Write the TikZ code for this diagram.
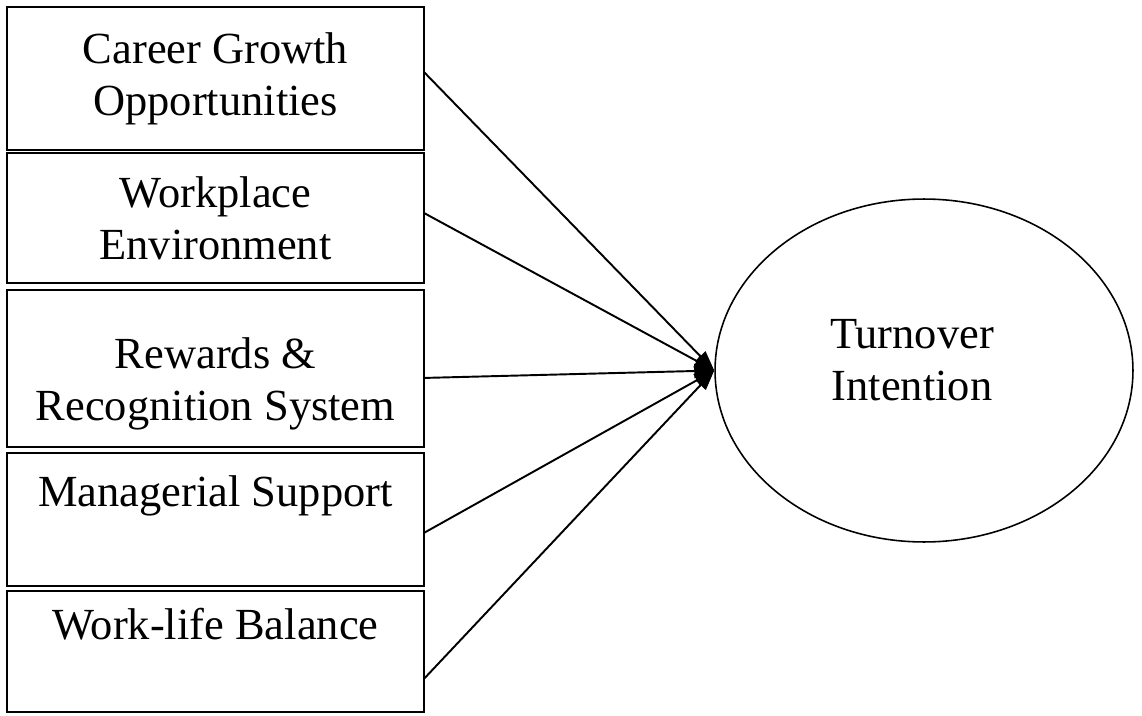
\documentclass[tikz,border=0pt]{standalone}
\usepackage{fontspec}
\setmainfont{Liberation Serif}
\usetikzlibrary{arrows.meta, positioning, shapes.geometric}

\begin{document}
\begin{tikzpicture}[x=0.02cm, y=-0.02cm,
factor/.style={
    rectangle,
    draw=black,
    line width=1.1pt,
    minimum width=8.34cm,
    inner sep=0pt,
    outer sep=0pt,
    align=center,
    font=\fontsize{25.3}{29.6}\selectfont
},
outcome/.style={
    ellipse,
    draw=black,
    line width=0.9pt,
    minimum width=8.36cm,
    minimum height=6.86cm,
    inner sep=0pt,
    align=center,
    font=\fontsize{25.3}{29.6}\selectfont
}, >={Triangle[length=0.4cm, width=0.28cm]}]

  \useasboundingbox (0,0) rectangle (1142,716);

  \node (career) [factor, minimum height=2.86cm] at (215.5,78.5) {Career Growth\\Opportunities};
  \node (workplace) [factor, minimum height=2.6cm, below=0.06cm of career] {Workplace\\Environment};
  \node (rewards) [factor, minimum height=3.14cm, below=0.14cm of workplace] {\rule{0pt}{1.24cm}Rewards \&\\Recognition System};
  \node (support) [factor, minimum height=2.66cm, below=0.12cm of rewards, text depth=1.14cm] {Managerial Support};
  \node (balance) [factor, minimum height=2.42cm, below=0.1cm of support, text depth=1.1cm] {Work-life Balance};
  \node (turnover) [outcome] at (924,370.5) {Turnover\hspace*{0.48cm}\\Intention\hspace*{0.48cm}\rule[-0.44cm]{0pt}{0.44cm}};

  \draw[->, line width=1.1pt] ([yshift=0.13cm]career.east) -- (turnover.west);
  \draw[->, line width=1.1pt] ([yshift=0.1cm]workplace.east) -- (turnover.west);
  \draw[->, line width=1.1pt] ([yshift=-0.19cm]rewards.east) -- (turnover.west);
  \draw[->, line width=1.1pt] ([yshift=-0.27cm]support.east) -- (turnover.west);
  \draw[->, line width=1.1pt] ([yshift=-0.55cm]balance.east) -- (turnover.west);

\end{tikzpicture}
\end{document}
